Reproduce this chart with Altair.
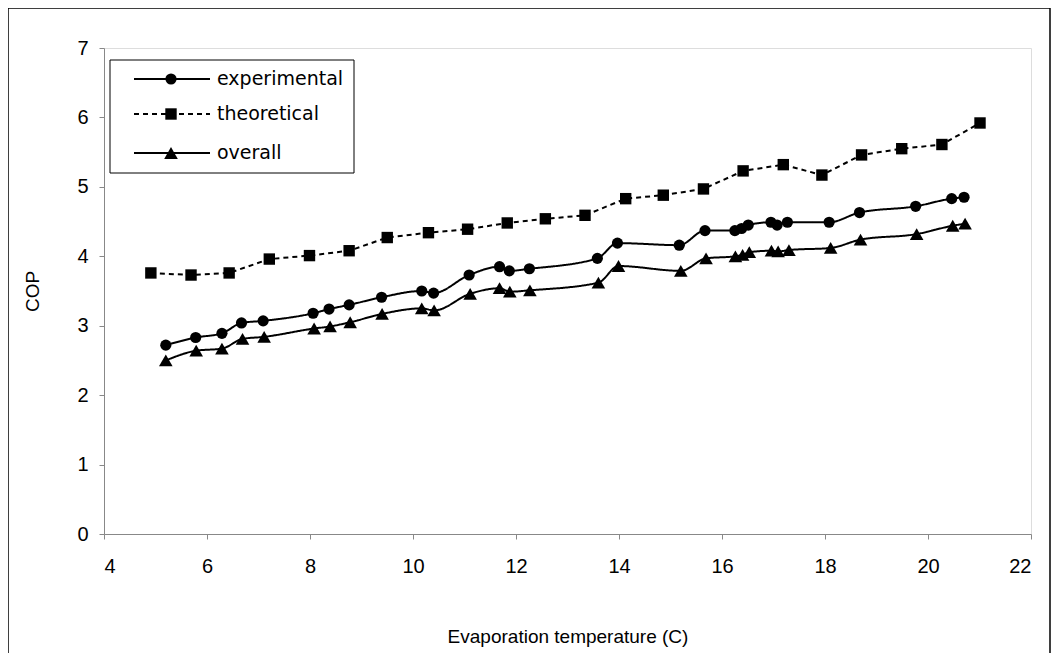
import altair as alt
import pandas as pd

# ---- data ----
exp_x = [5.20, 5.78, 6.29, 6.67, 7.09, 8.06, 8.37, 8.76, 9.39, 10.17, 10.40, 11.09, 11.68, 11.87, 12.26,
         13.58, 13.97, 15.17, 15.67, 16.25, 16.38, 16.51, 16.95, 17.07, 17.27, 18.08, 18.67, 19.76, 20.46, 20.70]
exp_y = [2.72, 2.83, 2.89, 3.04, 3.07, 3.18, 3.24, 3.30, 3.41, 3.50, 3.47, 3.73, 3.85, 3.79, 3.82,
         3.97, 4.19, 4.16, 4.37, 4.37, 4.40, 4.45, 4.49, 4.45, 4.49, 4.49, 4.63, 4.72, 4.83, 4.85]
ovr_x = [5.20, 5.79, 6.29, 6.69, 7.11, 8.08, 8.39, 8.78, 9.40, 10.17, 10.41, 11.11, 11.68, 11.88, 12.27,
         13.60, 13.99, 15.20, 15.69, 16.26, 16.40, 16.53, 16.96, 17.09, 17.30, 18.11, 18.69, 19.78, 20.48, 20.72]
ovr_y = [2.50, 2.64, 2.67, 2.81, 2.84, 2.96, 2.99, 3.05, 3.17, 3.25, 3.22, 3.46, 3.54, 3.49, 3.51,
         3.62, 3.86, 3.79, 3.97, 4.00, 4.02, 4.06, 4.08, 4.07, 4.09, 4.12, 4.24, 4.32, 4.44, 4.47]
theo_x = [4.91, 5.69, 6.43, 7.21, 7.99, 8.76, 9.50, 10.30, 11.06, 11.83, 12.57, 13.34, 14.13, 14.86,
          15.64, 16.41, 17.19, 17.94, 18.71, 19.49, 20.27, 21.01]
theo_y = [3.76, 3.73, 3.76, 3.96, 4.01, 4.08, 4.27, 4.34, 4.39, 4.48, 4.54, 4.59, 4.83, 4.88,
          4.97, 5.23, 5.32, 5.17, 5.46, 5.55, 5.61, 5.92]
series_names = ["experimental", "theoretical", "overall"]
x_ticks = [4, 6, 8, 10, 12, 14, 16, 18, 20, 22]
y_ticks = [0, 1, 2, 3, 4, 5, 6, 7]

FONT = "DejaVu Sans"
FS = 19
LFS = 20
W, H = 927, 486

exp_df = pd.DataFrame({"T": exp_x, "COP": exp_y})
ovr_df = pd.DataFrame({"T": ovr_x, "COP": ovr_y})
theo_df = pd.DataFrame({"T": theo_x, "COP": theo_y})

x_enc = alt.X("T:Q", scale=alt.Scale(domain=[4, 22], nice=False, zero=False),
              axis=alt.Axis(values=x_ticks, title="Evaporation temperature (C)", grid=False,
                            tickSize=5, labelPadding=17, labelFontSize=LFS, titleFontSize=FS,
                            titleFontWeight="normal", titleX=W / 2, titleY=102,
                            titleBaseline="middle", titleAlign="center"))
y_enc = alt.Y("COP:Q", scale=alt.Scale(domain=[0, 7], nice=False),
              axis=alt.Axis(values=y_ticks, title="COP", grid=False, tickSize=5, labelPadding=11,
                            labelFontSize=LFS, titleFontSize=FS, titleFontWeight="normal",
                            titleX=-72, titleY=H / 2, titleAngle=270, titleBaseline="middle",
                            titleAlign="center"))

CIRC, SQ, TRI = 125, 130, 185


def series_layers(df, shape, size, dash, interp):
    line = alt.Chart(df).mark_line(color="black", strokeWidth=2, strokeDash=dash,
                                   interpolate=interp).encode(x=x_enc, y=y_enc)
    pts = alt.Chart(df).mark_point(shape=shape, size=size, filled=True, color="black",
                                   opacity=1).encode(x=x_enc, y=y_enc)
    return [line, pts]


layers = []
layers += series_layers(theo_df, "square", SQ, [5, 4], "linear")
layers += series_layers(exp_df, "circle", CIRC, [1, 0], "monotone")
layers += series_layers(ovr_df, "triangle-up", TRI, [1, 0], "monotone")

one = pd.DataFrame({"k": [0]})
frame = alt.Chart(one).mark_rect(fill=None, stroke="black", strokeWidth=1.5).encode(
    x=alt.value(-96), x2=alt.value(946), y=alt.value(-40), y2=alt.value(640))
legend_box = alt.Chart(one).mark_rect(fill="white", stroke="black", strokeWidth=1).encode(
    x=alt.value(6), x2=alt.value(250), y=alt.value(12), y2=alt.value(125))
layers = [frame] + layers + [legend_box]

legend_style = {
    "experimental": ("circle", CIRC, [1, 0], 31),
    "theoretical": ("square", SQ, [5, 4], 66),
    "overall": ("triangle-up", TRI, [1, 0], 105),
}
for name in series_names:
    shape, size, dash, yy = legend_style[name]
    ldf = pd.DataFrame({"label": [name]})
    layers.append(alt.Chart(ldf).mark_rule(color="black", strokeWidth=2, strokeDash=dash).encode(
        x=alt.value(30), x2=alt.value(106), y=alt.value(yy)))
    layers.append(alt.Chart(ldf).mark_point(shape=shape, size=size, filled=True, color="black",
                                            opacity=1).encode(x=alt.value(67), y=alt.value(yy)))
    layers.append(alt.Chart(ldf).mark_text(align="left", baseline="middle", font=FONT, fontSize=FS,
                                           color="black").encode(
        x=alt.value(113), y=alt.value(yy), text="label:N"))

chart = alt.layer(*layers).properties(
    width=W, height=H,
    autosize=alt.AutoSizeParams(type="none"),
    padding={"left": 96, "top": 40, "right": 21, "bottom": 119},
).configure_view(stroke="#808080", strokeWidth=2).configure_axis(
    domainColor="black", domainWidth=1.5, tickColor="black", tickWidth=1,
    labelColor="black", titleColor="black", labelFont=FONT, titleFont=FONT,
).configure(background="white")

chart.save("out.html", embed_options={"renderer": "svg", "actions": False})
